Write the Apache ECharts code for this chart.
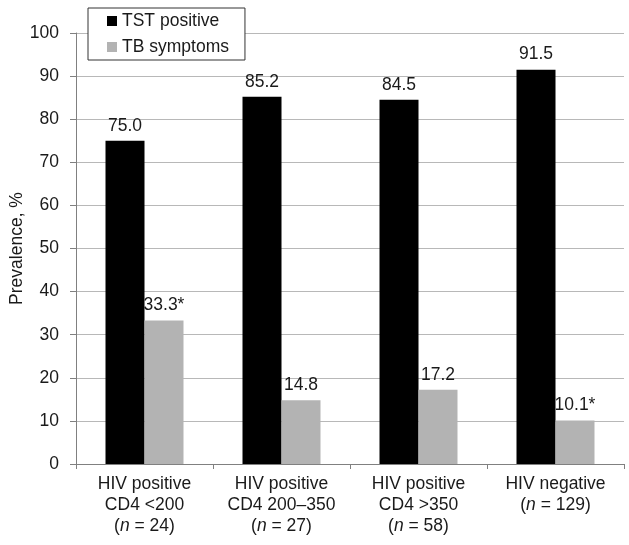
<!DOCTYPE html>
<html><head><meta charset="utf-8">
<script src="https://cdn.jsdelivr.net/npm/echarts@6/dist/echarts.min.js"></script>
<style>html,body{margin:0;padding:0;background:#fff}#c{width:629px;height:545px}</style>
</head><body><div id="c"></div>
<script>
const categories = [
  ['HIV positive', 'CD4 <200', '24'],
  ['HIV positive', 'CD4 200\u2013350', '27'],
  ['HIV positive', 'CD4 >350', '58'],
  ['HIV negative', null, '129']
];
const tstPositive = [75.0, 85.2, 84.5, 91.5];
const tbSymptoms = [33.3, 14.8, 17.2, 10.1];
const tbLabels = ['33.3*', '14.8', '17.2', '10.1*'];
const yTicks = [0, 10, 20, 30, 40, 50, 60, 70, 80, 90, 100];

const catNames = categories.map(c => {
  const lines = [c[0]];
  if (c[1]) lines.push(c[1]);
  lines.push('(' + '{i|n}' + ' = ' + c[2] + ')');
  return lines.join('\n');
});

const font = 'Liberation Sans, Arial, sans-serif';
const fs = 17.5;
const txt = '#1a1a1a';
const chart = echarts.init(document.getElementById('c'), null, {renderer: 'canvas'});
chart.setOption({
  animation: false,
  textStyle: {fontFamily: font},
  legend: {
    orient: 'vertical', left: 88, top: 8,
    padding: [4, 16, 4, 19],
    itemGap: 8, itemWidth: 10, itemHeight: 10,
    borderColor: '#333', borderWidth: 1,
    backgroundColor: '#fff',
    textStyle: {fontSize: fs, color: txt, fontFamily: font},
    data: [{name: 'TST positive', icon: 'rect'}, {name: 'TB symptoms', icon: 'rect'}]
  },
  grid: {left: 76, right: 5, top: 33, bottom: 81, containLabel: false, outerBoundsMode: 'none'},
  xAxis: {
    type: 'category', data: catNames,
    axisLine: {lineStyle: {color: '#808080', width: 1}},
    axisTick: {show: true, length: 5, lineStyle: {color: '#808080'}},
    axisLabel: {
      fontSize: fs, color: txt, lineHeight: 21, margin: 10, interval: 0,
      fontFamily: font,
      rich: {i: {fontStyle: 'italic', fontSize: fs, color: txt, fontFamily: font, lineHeight: 21}}
    }
  },
  yAxis: {
    type: 'value', min: 0, max: 100, interval: 10,
    name: 'Prevalence, %', nameLocation: 'middle', nameGap: 50, nameRotate: 90,
    nameMoveOverlap: false,
    nameTextStyle: {fontSize: fs, color: txt, fontFamily: font},
    axisLine: {show: true, lineStyle: {color: '#808080'}},
    axisTick: {show: true, length: 6, lineStyle: {color: '#808080'}},
    axisLabel: {fontSize: fs, color: txt, margin: 17, fontFamily: font,
      formatter: v => yTicks.includes(v) ? String(v) : ''},
    splitLine: {show: true, lineStyle: {color: '#b8b8b8', width: 1}}
  },
  series: [
    {
      name: 'TST positive', type: 'bar', data: tstPositive,
      barWidth: 39, barGap: '0%',
      itemStyle: {color: '#000'},
      label: {show: true, position: 'top', fontSize: fs, color: txt, distance: 6,
        fontFamily: font, formatter: p => p.value.toFixed(1)}
    },
    {
      name: 'TB symptoms', type: 'bar', data: tbSymptoms,
      barWidth: 39,
      itemStyle: {color: '#b3b3b3'},
      label: {show: true, position: 'top', fontSize: fs, color: txt, distance: 6,
        fontFamily: font, formatter: p => tbLabels[p.dataIndex]}
    }
  ]
});
</script></body></html>
